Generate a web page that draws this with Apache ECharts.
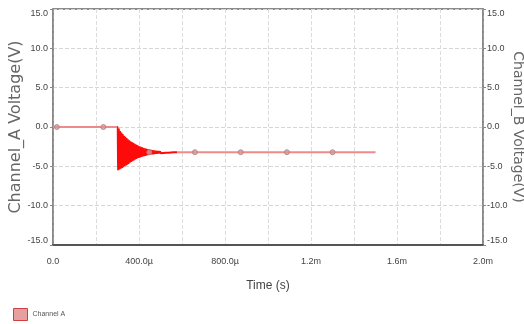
<!DOCTYPE html>
<html><head><meta charset="utf-8">
<script src="https://cdn.jsdelivr.net/npm/echarts@6/dist/echarts.min.js"></script>
<style>html,body{margin:0;padding:0;background:#fff}#c{width:524px;height:324px}</style>
</head><body><div id="c"></div>
<script>
// Time in microseconds, voltage in V
var channelA = [
 [0,0],[300,0],
 [303,-5.5],[306,-0.2],[309,-5.4],[312,-0.5],[315,-5.3],[318,-0.7],[321,-5.2],[324,-0.9],
 [327,-5.1],[330,-1.1],[333,-5.0],[336,-1.25],[339,-4.9],[342,-1.4],[345,-4.8],[348,-1.55],
 [351,-4.7],[354,-1.7],[357,-4.55],[360,-1.8],[363,-4.45],[366,-1.9],[369,-4.35],[372,-2.0],
 [375,-4.25],[378,-2.1],[381,-4.15],[384,-2.2],[387,-4.05],[390,-2.3],[393,-3.98],[396,-2.38],
 [399,-3.92],[402,-2.45],[405,-3.86],[408,-2.52],[411,-3.8],[414,-2.58],[417,-3.75],[420,-2.64],
 [423,-3.7],[426,-2.7],[429,-3.66],[432,-2.75],[435,-3.62],[438,-2.8],[441,-3.58],[444,-2.84],
 [447,-3.55],[450,-2.88],[453,-3.52],[456,-2.92],[459,-3.49],[462,-2.95],[465,-3.46],[468,-2.98],
 [471,-3.44],[474,-3.0],[477,-3.42],[480,-3.02],[483,-3.4],[486,-3.04],[489,-3.38],[492,-3.06],
 [495,-3.36],[498,-3.08],[501,-3.34],[504,-3.1],[507,-3.32],[510,-3.12],[513,-3.3],[516,-3.13],
 [519,-3.29],[522,-3.14],[525,-3.28],[528,-3.15],[531,-3.27],[534,-3.16],[537,-3.26],[540,-3.17],
 [543,-3.25],[546,-3.18],[549,-3.24],[552,-3.19],[555,-3.23],[558,-3.2],[561,-3.22],
 [600,-3.21],[1500,-3.21]
];
var markerTimes = [18, 234, 448, 660, 873, 1088, 1300];
var markerVolts = [0, 0, -3.2, -3.2, -3.2, -3.2, -3.2];
var xTickLabels = {0:'0.0',400:'400.0\u00b5',800:'800.0\u00b5',1200:'1.2m',1600:'1.6m',2000:'2.0m'};

var FONT = '"Liberation Sans Narrow", "Liberation Sans", Arial, sans-serif';
var NAMEFONT = '"DejaVu Sans", Verdana, sans-serif';
var chart = echarts.init(document.getElementById('c'));
var markerData = markerTimes.map(function(t,i){return [t, markerVolts[i]];});
function yfmt(v){ return v.toFixed(1); }
var yAxisBase = {
  type:'value', min:-15, max:15, interval:5,
  nameLocation:'middle', nameMoveOverlap:false,
  nameTextStyle:{fontFamily:NAMEFONT, fontSize:14, color:'#666'},
  axisLine:{show:true, lineStyle:{color:'#888', width:1.5}},
  axisTick:{show:true, length:3, lineStyle:{color:'#888'}},
  axisLabel:{fontFamily:FONT, fontSize:9, color:'#444', margin:5, formatter:yfmt,
    verticalAlignMaxLabel:'top', verticalAlignMinLabel:'bottom'},
  splitLine:{show:true, lineStyle:{color:'#d6d6d6', type:'dashed', width:1}}
};
chart.setOption({
  animation:false,
  backgroundColor:'#fff',
  grid:{left:53, right:41, top:9, bottom:79, containLabel:false, outerBoundsMode:'none',
    show:true, borderColor:'#666', borderWidth:1.5},
  xAxis:{
    type:'value', min:0, max:2000, interval:200,
    name:'Time (s)', nameLocation:'middle', nameGap:35, nameMoveOverlap:false,
    nameTextStyle:{fontFamily:FONT, fontSize:12, color:'#444'},
    axisLine:{show:true, onZero:false, lineStyle:{color:'#555', width:2}},
    axisTick:{show:false},
    axisLabel:{fontFamily:FONT, fontSize:9, color:'#444', margin:12,
      formatter:function(v){ return xTickLabels.hasOwnProperty(v) ? xTickLabels[v] : ''; }},
    splitLine:{show:true, lineStyle:{color:'#dcdcdc', type:'dashed', width:1}}
  },
  yAxis:[
    Object.assign({}, yAxisBase, {position:'left', name:'Channel_A Voltage(V)', nameGap:29,
      nameTextStyle:Object.assign({}, yAxisBase.nameTextStyle, {fontSize:16})}),
    Object.assign({}, yAxisBase, {position:'right', name:'Channel_B Voltage(V)', nameGap:28, nameRotate:-90,
      axisLabel:Object.assign({}, yAxisBase.axisLabel, {margin:4}),
      splitLine:{show:false}})
  ],
  visualMap:{
    show:false, type:'piecewise', dimension:0, seriesIndex:0,
    pieces:[{gte:299, lte:575, color:'#ff0a0a'}],
    outOfRange:{color:'#f08a8a'}
  },
  legend:{
    left:8, top:303, itemWidth:14, itemHeight:12, itemGap:4,
    data:[{name:'Channel A', icon:'rect', itemStyle:{color:'#e6a0a0', borderColor:'#d04040', borderWidth:1}}],
    textStyle:{fontFamily:FONT, fontSize:7, color:'#555', padding:[0,0,6,0]}
  },
  series:[
    {name:'Channel A', type:'line', yAxisIndex:0, data:channelA, showSymbol:false,
     lineStyle:{width:2}, z:3},
    {name:'markers', type:'scatter', yAxisIndex:0, data:markerData, symbol:'circle', symbolSize:5,
     itemStyle:{color:'#d49a9a', borderColor:'#b08080', borderWidth:1}, z:4}
  ]
});
</script></body></html>
